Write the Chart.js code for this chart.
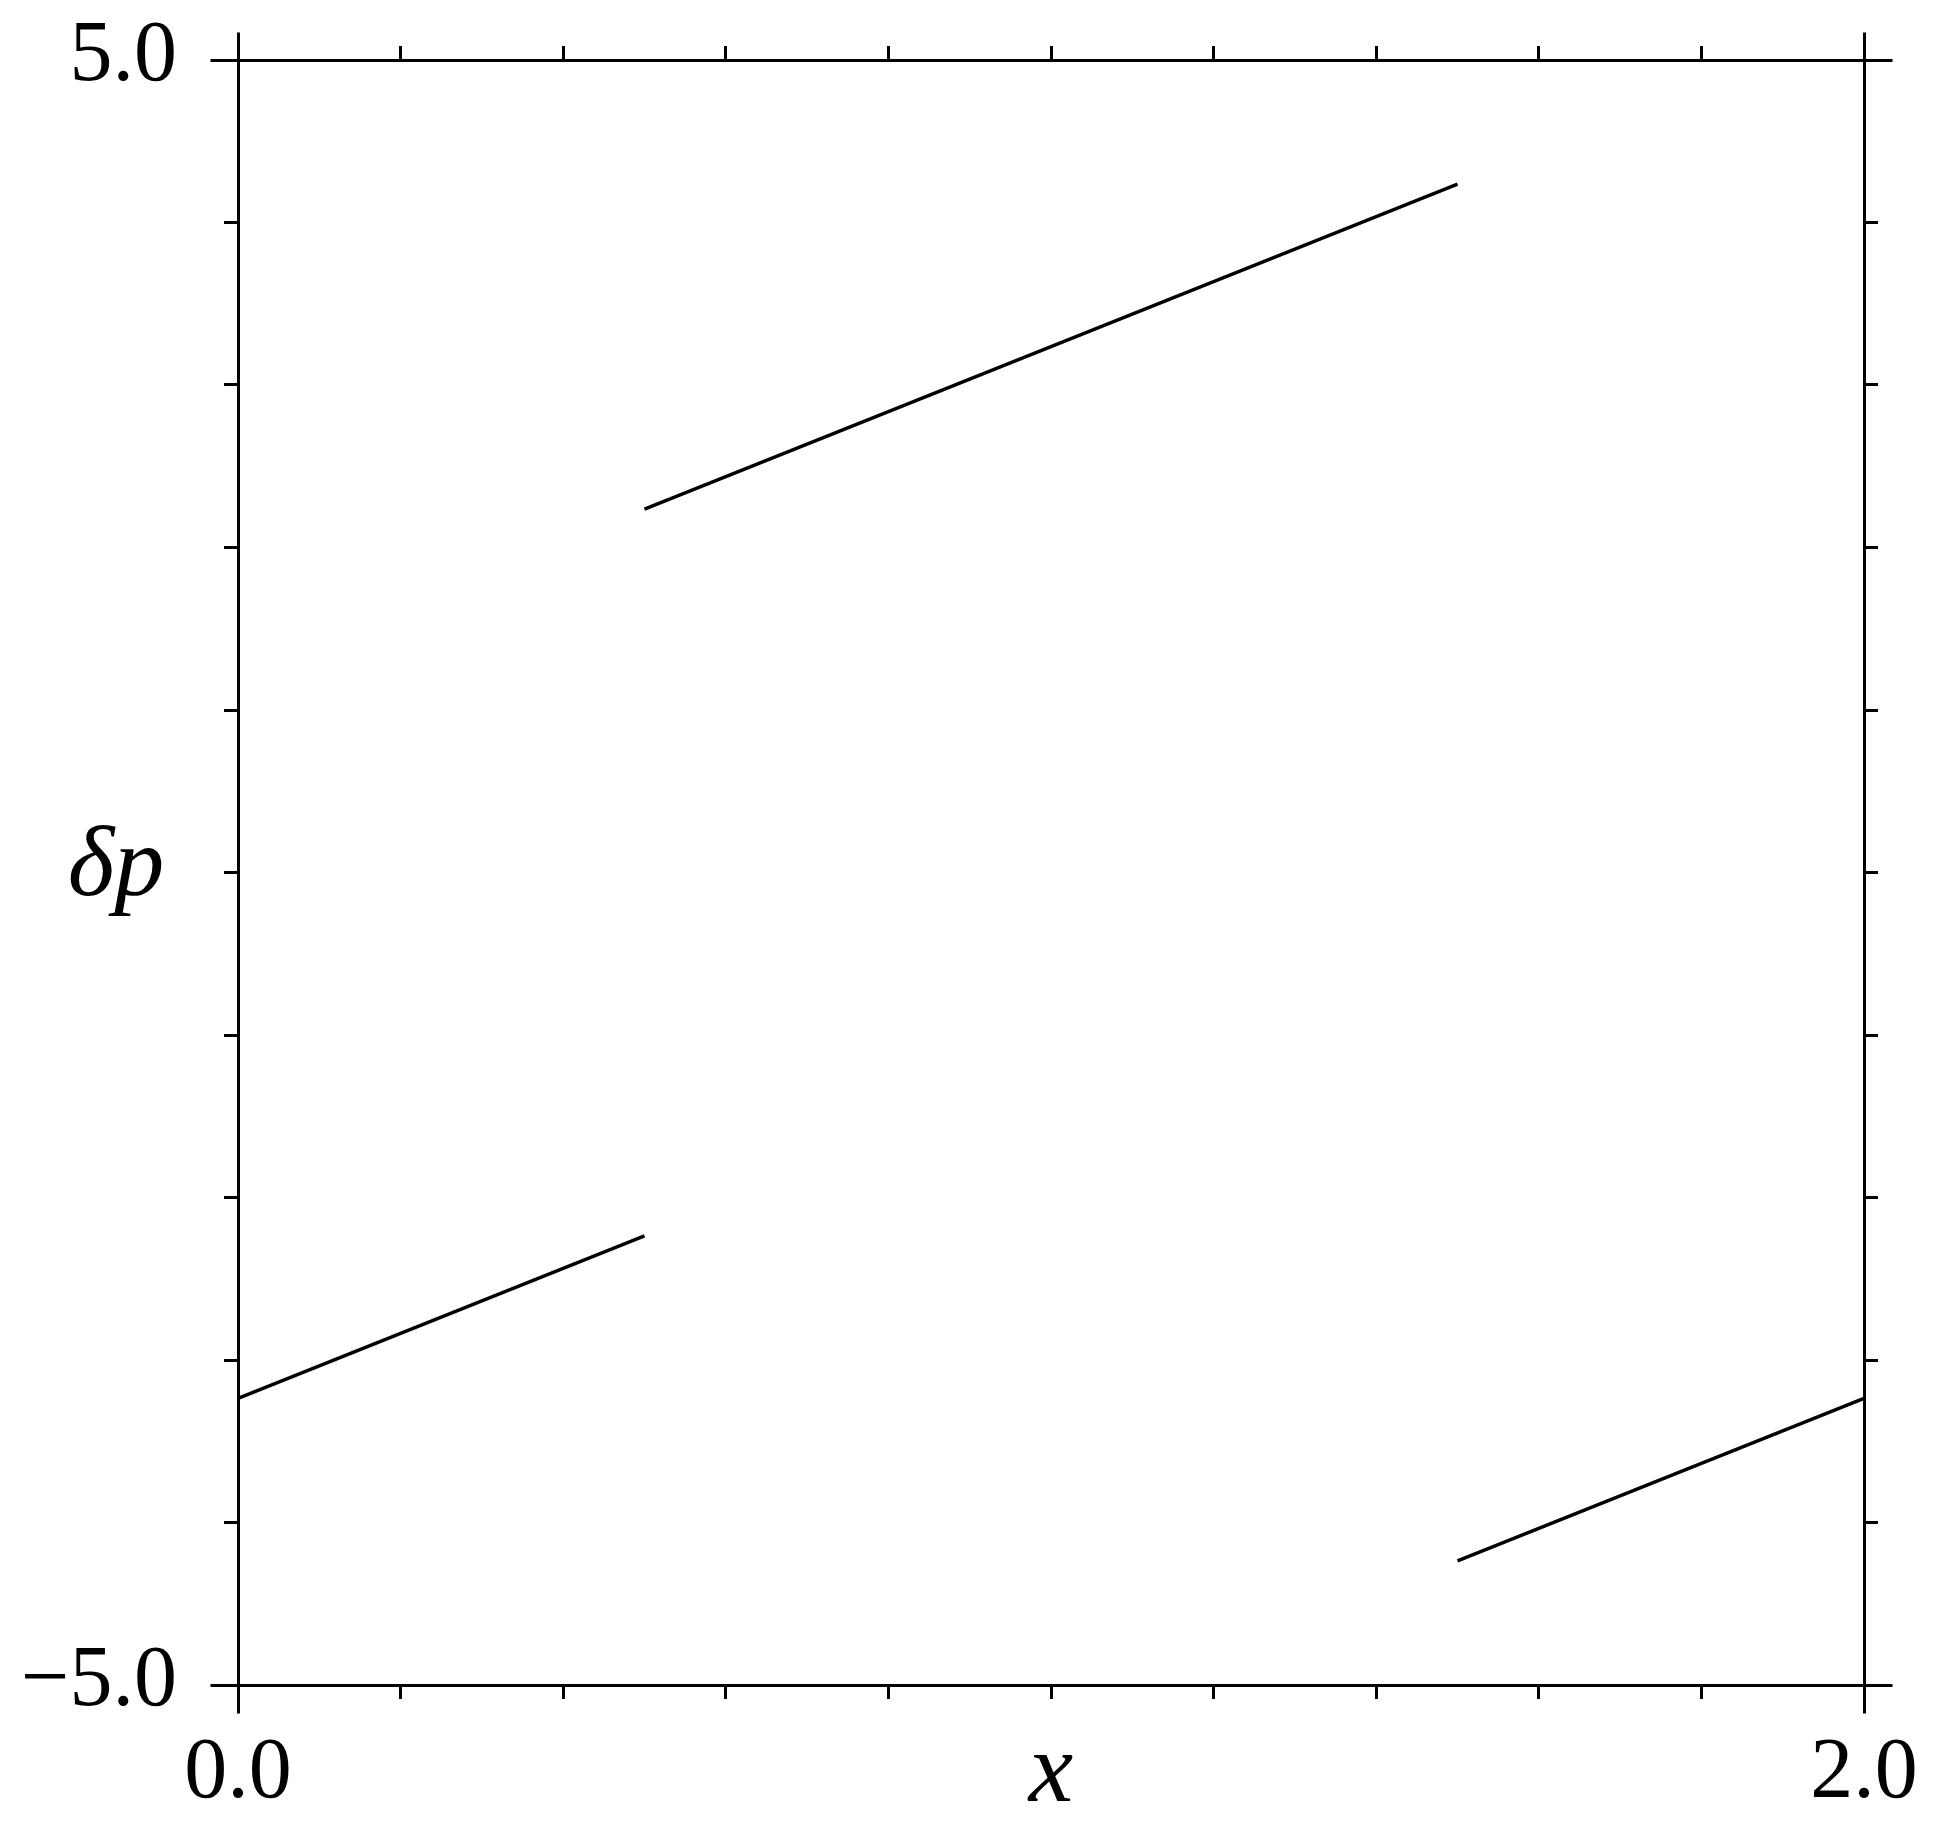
<!DOCTYPE html>
<html>
<head>
<meta charset="utf-8">
<script src="https://cdn.jsdelivr.net/npm/chart.js@4/dist/chart.umd.min.js"></script>
<style>
  html, body { margin: 0; padding: 0; background: #fff; }
  #c { display: block; }
</style>
</head>
<body>
<canvas id="c" width="1953" height="1833"></canvas>
<script>
// ---- data ----
const segmentX = [[0.0, 0.5], [0.5, 1.5], [1.5, 2.0]];
const segmentY = [[-3.236, -2.236], [2.236, 4.236], [-4.236, -3.236]];
const xRange = [0.0, 2.0];
const yRange = [-5.0, 5.0];
const xStep = 0.2;
const yStep = 1.0;
const xTickLabels = { '0': '0.0', '2': '2.0' };
const yTickLabels = { '5': '5.0', '-5': '\u22125.0' };
const xTitle = 'x';
const yTitle = '\u03B4p';

const FONT = 'Liberation Serif';
const near = (a, b) => Math.abs(a - b) < 1e-9;
function labelFor(map, v) {
  for (const k in map) { if (near(parseFloat(k), v)) return map[k]; }
  return '';
}

const datasets = segmentX.map((xs, i) => ({
  data: xs.map((x, j) => ({ x: x, y: segmentY[i][j] })),
  showLine: true,
  borderColor: '#000',
  borderWidth: 3.3,
  pointRadius: 0,
  fill: false,
  xAxisID: 'x',
  yAxisID: 'y'
}));

const gridCommon = {
  drawOnChartArea: false,
  drawTicks: true,
  tickLength: 14,
  tickWidth: 3,
  tickColor: '#000',
  color: '#000'
};
const borderCommon = { display: true, color: '#000', width: 3 };

const alignPx = (v, w) => Math.round(v - w / 2) + w / 2;
const noPad = (s) => { s.paddingTop = 0; s.paddingBottom = 0; s.paddingLeft = 0; s.paddingRight = 0; };

const framePlugin = {
  id: 'frame',
  afterDraw(chart) {
    const ctx = chart.ctx;
    const xs = chart.scales.x, ys = chart.scales.y;
    const L = alignPx(xs.getPixelForValue(xRange[0]), 3);
    const R = alignPx(xs.getPixelForValue(xRange[1]), 3);
    const T = alignPx(ys.getPixelForValue(yRange[1]), 3);
    const B = alignPx(ys.getPixelForValue(yRange[0]), 3);
    const ext = 28;
    ctx.save();
    ctx.strokeStyle = '#000';
    ctx.lineWidth = 3;
    ctx.lineCap = 'butt';
    ctx.beginPath();
    ctx.moveTo(L - ext, T); ctx.lineTo(L, T);
    ctx.moveTo(R, T); ctx.lineTo(R + ext, T);
    ctx.moveTo(L - ext, B); ctx.lineTo(L, B);
    ctx.moveTo(R, B); ctx.lineTo(R + ext, B);
    ctx.moveTo(L, T - ext); ctx.lineTo(L, T);
    ctx.moveTo(R, T - ext); ctx.lineTo(R, T);
    ctx.moveTo(L, B); ctx.lineTo(L, B + ext);
    ctx.moveTo(R, B); ctx.lineTo(R, B + ext);
    ctx.stroke();
    // y axis title, drawn horizontally at the left
    ctx.fillStyle = '#000';
    ctx.font = 'italic 100px "' + FONT + '"';
    ctx.textAlign = 'center';
    ctx.textBaseline = 'alphabetic';
    const midY = (T + B) / 2;
    ctx.fillText(yTitle, 116, midY + 22);
    ctx.restore();
  }
};

new Chart(document.getElementById('c'), {
  type: 'scatter',
  data: { datasets: datasets },
  plugins: [framePlugin],
  options: {
    responsive: false,
    animation: false,
    devicePixelRatio: 1,
    layout: { padding: 0 },
    plugins: { legend: { display: false }, tooltip: { enabled: false } },
    scales: {
      x: {
        type: 'linear', position: 'bottom',
        min: xRange[0], max: xRange[1],
        grid: gridCommon, border: borderCommon,
        ticks: {
          stepSize: xStep, autoSkip: false, maxRotation: 0, minRotation: 0,
          color: '#000', padding: 24,
          font: { family: FONT, size: 86 },
          callback: (v) => labelFor(xTickLabels, v)
        },
        title: {
          display: true, text: xTitle, color: '#000',
          font: { family: FONT, size: 100, style: 'italic', lineHeight: 1.0 },
          padding: { top: 0, bottom: 8 }
        },
        afterFit: (s) => { s.height = 148; noPad(s); }
      },
      x2: {
        type: 'linear', position: 'top',
        min: xRange[0], max: xRange[1],
        grid: gridCommon, border: borderCommon,
        ticks: { stepSize: xStep, autoSkip: false, display: false },
        afterFit: (s) => { s.height = 60; noPad(s); }
      },
      y: {
        type: 'linear', position: 'left',
        min: yRange[0], max: yRange[1],
        grid: gridCommon, border: borderCommon,
        ticks: {
          stepSize: yStep, autoSkip: false, color: '#000', padding: 47,
          labelOffset: -3,
          font: { family: FONT, size: 86 },
          callback: (v) => labelFor(yTickLabels, v)
        },
        afterFit: (s) => { s.width = 238; noPad(s); }
      },
      y2: {
        type: 'linear', position: 'right',
        min: yRange[0], max: yRange[1],
        grid: gridCommon, border: borderCommon,
        ticks: { stepSize: yStep, autoSkip: false, display: false },
        afterFit: (s) => { s.width = 89; noPad(s); }
      }
    }
  }
});
</script>
</body>
</html>
